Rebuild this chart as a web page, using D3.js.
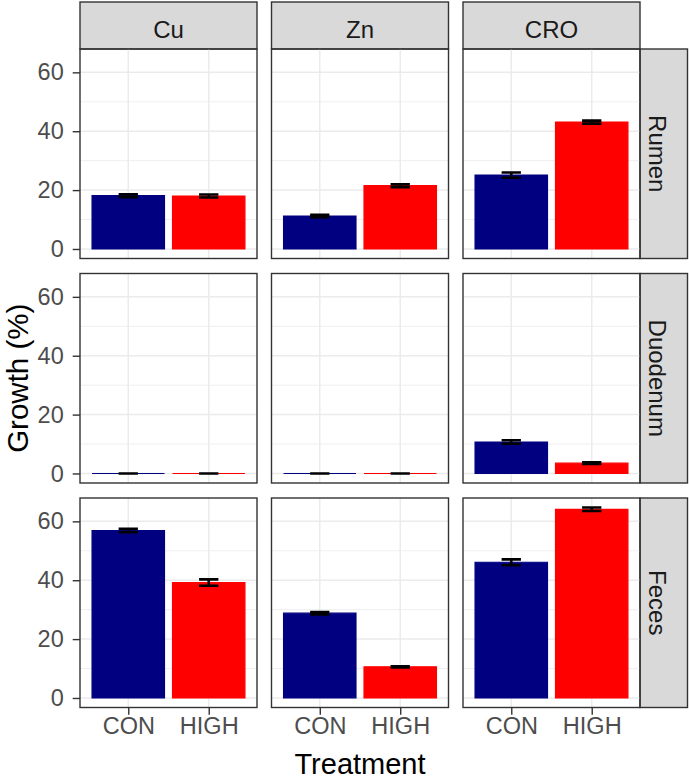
<!DOCTYPE html>
<html>
<head>
<meta charset="utf-8">
<script src="https://cdn.jsdelivr.net/npm/d3@7"></script>
<style>
  body { margin: 0; background: #fff; }
  svg { display: block; font-family: "Liberation Sans", Arial, sans-serif; }
</style>
</head>
<body>
<div id="chart"></div>
<script>
// facets
const minerals = ["Cu", "Zn", "CRO"];
const sites = ["Rumen", "Duodenum", "Feces"];
const treatments = ["CON", "HIGH"];
const yTicks = [0, 20, 40, 60];
const yMinor = [10, 30, 50];

// growth (%) per mineral, [CON, HIGH]
const rumenMean = [[18.1, 18.0], [11.2, 21.5], [25.1, 43.1]];
const rumenSE = [[0.5, 0.5], [0.4, 0.5], [0.9, 0.5]];
const duodenumMean = [[0, 0], [0, 0], [10.7, 3.5]];
const duodenumSE = [[0, 0], [0, 0], [0.6, 0.3]];
const fecesMean = [[56.9, 39.2], [28.8, 10.6], [46.1, 64.1]];
const fecesSE = [[0.6, 1.1], [0.4, 0.2], [1.0, 0.6]];

const fillColor = { CON: "#000080", HIGH: "#ff0000" };

const meanBySite = [rumenMean, duodenumMean, fecesMean];
const seBySite = [rumenSE, duodenumSE, fecesSE];

const rows = [];
sites.forEach((site, si) => {
  minerals.forEach((mineral, mi) => {
    treatments.forEach((t, ti) => {
      rows.push({
        site: site, mineral: mineral, treatment: t,
        mean: meanBySite[si][mi][ti], se: seBySite[si][mi][ti]
      });
    });
  });
});

const config = {
  width: 689, height: 780,
  left: 80, top: 49,
  panelW: 177, panelH: 209.5,
  gapX: 14.5, gapY: 15,
  stripH: 47, stripW: 47.5,
  border: "#333333", grid: "#ebebeb"
};

const svg = d3.select("#chart").append("svg")
  .attr("width", config.width)
  .attr("height", config.height);

// shared scales (ggplot style 5% expansion on y, 0.6 on discrete x)
const yMax = d3.max(rows, d => d.mean + d.se);
const yPad = yMax * 0.05;
const y = d3.scaleLinear()
  .domain([-yPad, yMax + yPad])
  .range([config.panelH, 0]);

const x = d3.scalePoint()
  .domain(treatments)
  .range([0, config.panelW])
  .padding(0.6);
const barW = x.step() * 0.9;
const capW = x.step() * 0.24;

const panelX = i => config.left + i * (config.panelW + config.gapX);
const panelY = i => config.top + i * (config.panelH + config.gapY);

// column strips
minerals.forEach((m, mi) => {
  const g = svg.append("g").attr("transform", `translate(${panelX(mi)},${config.top - config.stripH})`);
  g.append("rect")
    .attr("width", config.panelW).attr("height", config.stripH)
    .attr("fill", "#d9d9d9").attr("stroke", config.border).attr("stroke-width", 1.4);
  g.append("text")
    .attr("x", config.panelW / 2).attr("y", 35.5)
    .attr("text-anchor", "middle")
    .attr("font-size", 24).attr("fill", "#1a1a1a")
    .text(m);
});

// row strips
sites.forEach((s, si) => {
  const x0 = panelX(minerals.length - 1) + config.panelW;
  const g = svg.append("g").attr("transform", `translate(${x0},${panelY(si)})`);
  g.append("rect")
    .attr("width", config.stripW).attr("height", config.panelH)
    .attr("fill", "#d9d9d9").attr("stroke", config.border).attr("stroke-width", 1.4);
  g.append("text")
    .attr("transform", `translate(8.5,${config.panelH / 2}) rotate(90)`)
    .attr("text-anchor", "middle")
    .attr("font-size", 24).attr("fill", "#1a1a1a")
    .text(s);
});

// panels
sites.forEach((site, si) => {
  minerals.forEach((mineral, mi) => {
    const g = svg.append("g").attr("transform", `translate(${panelX(mi)},${panelY(si)})`);

    g.selectAll("line.minor").data(yMinor).join("line")
      .attr("class", "minor")
      .attr("x1", 0).attr("x2", config.panelW)
      .attr("y1", d => y(d)).attr("y2", d => y(d))
      .attr("stroke", config.grid).attr("stroke-width", 0.8);

    g.selectAll("line.hmajor").data(yTicks).join("line")
      .attr("class", "hmajor")
      .attr("x1", 0).attr("x2", config.panelW)
      .attr("y1", d => y(d)).attr("y2", d => y(d))
      .attr("stroke", config.grid).attr("stroke-width", 1.5);

    g.selectAll("line.vmajor").data(treatments).join("line")
      .attr("class", "vmajor")
      .attr("x1", d => x(d)).attr("x2", d => x(d))
      .attr("y1", 0).attr("y2", config.panelH)
      .attr("stroke", config.grid).attr("stroke-width", 1.5);

    const data = rows.filter(d => d.site === site && d.mineral === mineral);

    // bars as paths so a zero-height bar still shows its outline
    g.selectAll("path.bar").data(data).join("path")
      .attr("class", "bar")
      .attr("d", d => {
        const x0 = x(d.treatment) - barW / 2;
        const y0 = y(0), y1 = y(d.mean);
        return `M${x0},${y0}V${y1}H${x0 + barW}V${y0}Z`;
      })
      .attr("fill", d => fillColor[d.treatment])
      .attr("stroke", d => fillColor[d.treatment])
      .attr("stroke-width", 1.2);

    const eb = g.selectAll("g.err").data(data).join("g").attr("class", "err");
    eb.append("path")
      .attr("d", d => {
        const cx = x(d.treatment);
        const yl = y(d.mean - d.se), yh = y(d.mean + d.se);
        return `M${cx - capW / 2},${yh}H${cx + capW / 2}M${cx},${yh}V${yl}M${cx - capW / 2},${yl}H${cx + capW / 2}`;
      })
      .attr("fill", "none").attr("stroke", "#000").attr("stroke-width", 2.6);

    g.append("rect")
      .attr("width", config.panelW).attr("height", config.panelH)
      .attr("fill", "none").attr("stroke", config.border).attr("stroke-width", 1.4);

    // y axis on the first column
    if (mi === 0) {
      const yAxis = d3.axisLeft(y).tickValues(yTicks).tickSize(7.3).tickPadding(9).tickFormat(d3.format("d"));
      const ax = g.append("g").call(yAxis);
      ax.select(".domain").remove();
      ax.selectAll("line").attr("stroke", config.border).attr("stroke-width", 1.4);
      ax.selectAll("text").attr("font-size", 23.5).attr("fill", "#4d4d4d")
        .attr("font-family", "Liberation Sans, Arial, sans-serif");
    }
    // x axis on the last row
    if (si === sites.length - 1) {
      const xAxis = d3.axisBottom(x).tickSize(7.3).tickPadding(3);
      const ax = g.append("g").attr("transform", `translate(0,${config.panelH})`).call(xAxis);
      ax.select(".domain").remove();
      ax.selectAll("line").attr("stroke", config.border).attr("stroke-width", 1.4);
      ax.selectAll("text").attr("font-size", 23.5).attr("fill", "#4d4d4d")
        .attr("font-family", "Liberation Sans, Arial, sans-serif");
    }
  });
});

// axis titles
const plotMidX = config.left + (3 * config.panelW + 2 * config.gapX) / 2;
const plotMidY = config.top + (3 * config.panelH + 2 * config.gapY) / 2;

svg.append("text")
  .attr("x", plotMidX).attr("y", 774)
  .attr("text-anchor", "middle")
  .attr("font-size", 29).attr("fill", "#000")
  .text("Treatment");

svg.append("text")
  .attr("transform", `translate(28,${plotMidY}) rotate(-90)`)
  .attr("text-anchor", "middle")
  .attr("font-size", 29.5).attr("fill", "#000")
  .text("Growth (%)");
</script>
</body>
</html>
